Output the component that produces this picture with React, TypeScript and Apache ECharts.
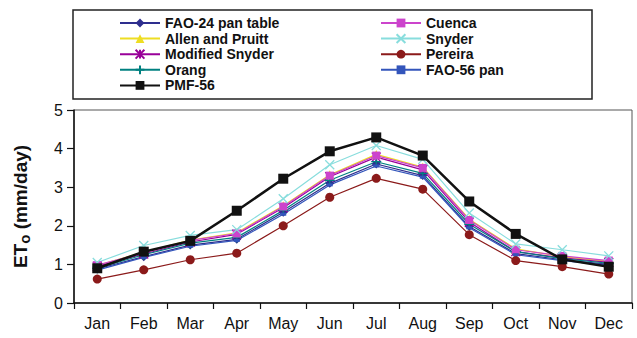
import React, { useEffect, useRef } from "react";
import * as echarts from "echarts";

const months = ["Jan", "Feb", "Mar", "Apr", "May", "Jun", "Jul", "Aug", "Sep", "Oct", "Nov", "Dec"];
const yTicks = [0, 1, 2, 3, 4, 5];

const fao24 = [0.88, 1.2, 1.5, 1.65, 2.35, 3.1, 3.6, 3.3, 1.98, 1.28, 1.12, 1.0];
const allen = [0.97, 1.32, 1.63, 1.82, 2.52, 3.32, 3.85, 3.52, 2.17, 1.4, 1.2, 1.08];
const modSnyder = [0.95, 1.27, 1.58, 1.78, 2.47, 3.27, 3.78, 3.45, 2.1, 1.33, 1.17, 1.05];
const orang = [0.9, 1.25, 1.55, 1.7, 2.4, 3.18, 3.66, 3.36, 2.04, 1.33, 1.15, 1.03];
const pmf56 = [0.9, 1.33, 1.61, 2.39, 3.22, 3.93, 4.29, 3.82, 2.63, 1.79, 1.13, 0.94];
const cuenca = [0.98, 1.3, 1.62, 1.8, 2.5, 3.3, 3.82, 3.5, 2.15, 1.38, 1.22, 1.1];
const snyder = [1.05, 1.49, 1.75, 1.9, 2.7, 3.58, 4.08, 3.72, 2.33, 1.53, 1.38, 1.22];
const pereira = [0.62, 0.86, 1.12, 1.29, 2.0, 2.74, 3.23, 2.95, 1.77, 1.1, 0.94, 0.75];
const fao56 = [0.85, 1.18, 1.47, 1.62, 2.3, 3.06, 3.55, 3.26, 1.95, 1.25, 1.1, 0.98];

const FONT = "Liberation Sans, Arial, Helvetica, sans-serif";

export default function App() {
  const ref = useRef<HTMLDivElement>(null);
  useEffect(() => {
    if (!ref.current) return;
    const chart = echarts.init(ref.current, null, { renderer: "svg" });
    const mk = (name: string, data: number[], color: string, symbol: string, size: any, extra: any = {}) => ({
      name,
      type: "line",
      data,
      symbol,
      symbolSize: size,
      color,
      lineStyle: { color, width: 1.2 },
      itemStyle: { color, borderColor: color, borderWidth: extra.bw ?? 0 },
      emphasis: { disabled: true },
      z: extra.z ?? 2,
    });
    const legendText = { fontFamily: FONT, fontWeight: "bold", fontSize: 14, color: "#111", lineHeight: 14 };
    const option: any = {
      animation: false,
      textStyle: { fontFamily: FONT },
      grid: { left: 74, right: 5, top: 110, bottom: 35, show: true, borderColor: "#555", borderWidth: 1 },
      legend: [
        {
          left: 119,
          top: 16,
          padding: 0,
          orient: "vertical",
          itemWidth: 40,
          itemHeight: 11,
          itemGap: 1.6,
          textStyle: legendText,
          data: ["FAO-24 pan table", "Allen and Pruitt", "Modified Snyder", "Orang", "PMF-56"],
        },
        {
          left: 380,
          top: 16,
          padding: 0,
          orient: "vertical",
          itemWidth: 40,
          itemHeight: 11,
          itemGap: 1.6,
          textStyle: legendText,
          data: ["Cuenca", "Snyder", "Pereira", "FAO-56 pan"],
        },
      ],
      graphic: [
        {
          type: "rect",
          shape: { x: 73, y: 10, width: 519, height: 89 },
          style: { fill: "none", stroke: "#222", lineWidth: 1.5 },
          silent: true,
        },
      ],
      xAxis: {
        type: "category",
        data: months,
        boundaryGap: true,
        axisLine: { lineStyle: { color: "#111", width: 1.5 } },
        axisTick: { show: true, inside: false, length: 6, lineStyle: { color: "#111", width: 1.2 } },
        axisLabel: { fontSize: 16, color: "#111", margin: 12, fontFamily: FONT },
        splitLine: { show: false },
      },
      yAxis: {
        type: "value",
        min: 0,
        max: 5,
        interval: 1,
        axisLine: { show: true, lineStyle: { color: "#111", width: 1.5 } },
        axisTick: { show: true, inside: false, length: 7, lineStyle: { color: "#111", width: 1.2 } },
        axisLabel: { fontSize: 16, color: "#111", margin: 11, fontFamily: FONT, formatter: (v: number) => (yTicks.includes(v) ? String(v) : "") },
        splitLine: { show: false },
        name: "{a|ET}{b|o}{a| (mm/day)}",
        nameLocation: "middle",
        nameGap: 44,
        nameRotate: 90,
        nameTextStyle: {
          rich: {
            a: { fontSize: 19, fontWeight: "bold", color: "#111", fontFamily: FONT, lineHeight: 24, verticalAlign: "bottom" },
            b: { fontSize: 15, fontWeight: "bold", color: "#111", fontFamily: FONT, lineHeight: 24, verticalAlign: "bottom", padding: [0, 0, -2, 0] },
          },
        },
      },
      series: [
        mk("FAO-24 pan table", fao24, "#2E2E8E", "diamond", 9),
        mk("Allen and Pruitt", allen, "#EEDD22", "triangle", 9),
        mk("Modified Snyder", modSnyder, "#990099", "path://M0,0L10,10M10,0L0,10M5,0L5,10", 9, { bw: 1.3 }),
        mk("Orang", orang, "#008080", "path://M5,0L5,10M0,5L10,5", 10, { bw: 1.3 }),
        mk("Cuenca", cuenca, "#CC44CC", "rect", 8),
        mk("Snyder", snyder, "#88DDDD", "path://M0,0L10,10M10,0L0,10", 9, { bw: 1.3 }),
        mk("Pereira", pereira, "#8B1A1A", "circle", 9),
        mk("FAO-56 pan", fao56, "#3355BB", "rect", [6, 3]),
        {
          ...mk("PMF-56", pmf56, "#111111", "rect", 10, { z: 5 }),
          lineStyle: { color: "#111111", width: 2.5 },
        },
      ],
    };
    chart.setOption(option);
    return () => chart.dispose();
  }, []);
  return <div ref={ref} style={{ width: 637, height: 338, position: "absolute", left: 0, top: 0 }} />;
}
